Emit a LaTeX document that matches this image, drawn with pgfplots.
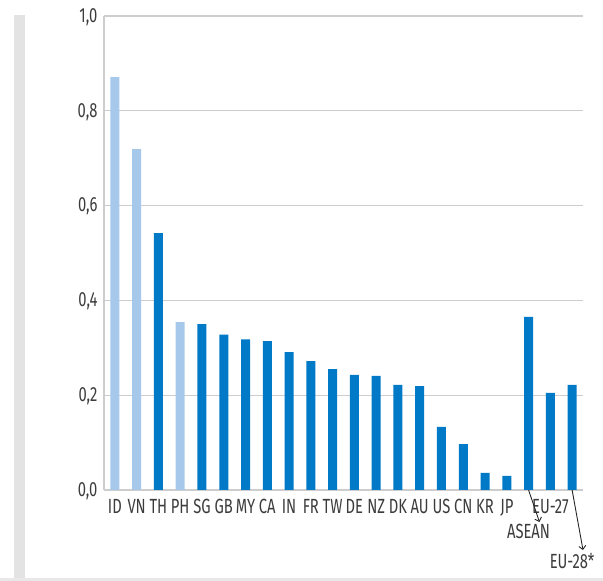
\documentclass[border=0pt]{standalone}
\usepackage{pgfplots}
\pgfplotsset{compat=1.18}
\usetikzlibrary{arrows.meta}
\usepackage{fontspec}
\setmainfont{Fira Sans}[FakeStretch=0.72]
\definecolor{lblue}{RGB}{166,201,235}
\definecolor{dblue}{RGB}{0,122,199}
\definecolor{gridc}{RGB}{205,205,205}
\definecolor{txt}{RGB}{60,60,60}
\begin{document}
\begin{tikzpicture}[x=1pt,y=1pt]
\path[use as bounding box] (0,0) rectangle (603,581);
\fill[black!11] (14,0) rectangle (25,566);
\fill[black!9] (0,0) rectangle (603,3);
\begin{axis}[
  at={(104pt,91pt)}, anchor=south west,
  scale only axis, width=479pt, height=474pt,
  xmin=-0.5, xmax=21.5, ymin=0, ymax=1,
  axis x line*=bottom, axis y line*=left,
  axis line style={gridc, line width=1.3pt, -},
  ymajorgrids, grid style={gridc, line width=1.3pt},
  ytick={0,0.2,0.4,0.6,0.8,1.0},
  y tick label style={/pgf/number format/use comma, /pgf/number format/fixed, /pgf/number format/fixed zerofill, /pgf/number format/precision=1, xshift=-3pt, yshift=-1pt},
  /pgf/number format/assume math mode=true,
  xtick={0,...,21},
  xticklabels={ID,VN,TH,PH,SG,GB,MY,CA,IN,FR,TW,DE,NZ,DK,AU,US,CN,KR,JP,{},EU-27,{}},
  major tick length=0pt,
  tick label style={font=\fontsize{20.5}{21}\selectfont, text=txt},
  x tick label style={yshift=-6pt},
  ybar, bar width=9pt,
  clip=false,
]
\addplot[fill=lblue, draw=none, bar shift=0pt] coordinates {
(0,0.871) (1,0.719) (3,0.354)};
\addplot[fill=dblue, draw=none, bar shift=0pt] coordinates {
(2,0.542) (4,0.350) (5,0.328) (6,0.318) (7,0.314) (8,0.291) (9,0.272)
(10,0.255) (11,0.243) (12,0.241) (13,0.222) (14,0.219) (15,0.133)
(16,0.097) (17,0.036) (18,0.030) (19,0.365) (20,0.205) (21,0.222)};
\draw[-{Straight Barb[length=3.5pt,width=7pt]}, black!85, line width=0.9pt] (axis cs:19,0) -- ++(0,-32pt);
\node[anchor=north, text=txt, font=\fontsize{20.5}{21}\selectfont, inner sep=0pt] at ([yshift=-34pt]axis cs:19,0) {ASEAN};
\draw[-{Straight Barb[length=3.5pt,width=7pt]}, black!85, line width=0.9pt] (axis cs:21,0) -- ++(0,-60pt);
\node[anchor=north, text=txt, font=\fontsize{20.5}{21}\selectfont, inner sep=0pt] at ([yshift=-63pt]axis cs:21,0) {EU-28*};
\end{axis}
\end{tikzpicture}
\end{document}
